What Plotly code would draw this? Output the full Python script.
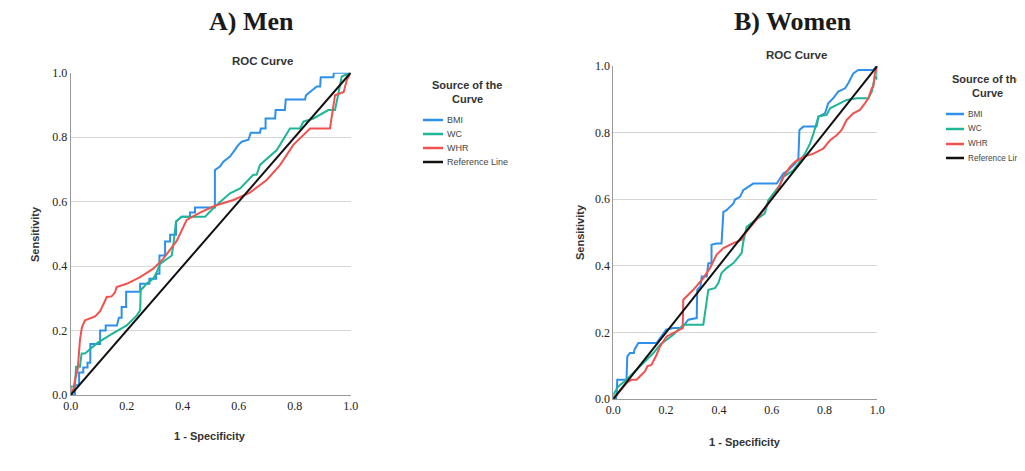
import plotly.graph_objects as go

# ---------------- data ----------------
SERIES = ["BMI", "WC", "WHR", "Reference Line"]
COLORS = ["#2E90EA", "#1FB597", "#F0524F", "#111111"]

# A) Men
men_bmi_x = [0, 0.015, 0.015, 0.03, 0.03, 0.045, 0.045, 0.06, 0.06, 0.07, 0.07, 0.105, 0.105, 0.125, 0.125,
             0.165, 0.172, 0.182, 0.182, 0.198, 0.198, 0.248, 0.248, 0.281, 0.281, 0.305, 0.305, 0.317, 0.317,
             0.337, 0.337, 0.355, 0.355, 0.376, 0.376, 0.396, 0.426, 0.426, 0.444, 0.444, 0.515, 0.515, 0.533,
             0.545, 0.569, 0.581, 0.599, 0.611, 0.635, 0.643, 0.676, 0.679, 0.696, 0.696, 0.73, 0.732, 0.765,
             0.768, 0.837, 0.84, 0.861, 0.879, 0.891, 0.893, 0.938, 0.94, 1.0]
men_bmi_y = [0, 0, 0.03, 0.03, 0.07, 0.07, 0.085, 0.085, 0.10, 0.10, 0.158, 0.158, 0.20, 0.20, 0.216,
             0.216, 0.24, 0.24, 0.273, 0.273, 0.32, 0.32, 0.345, 0.345, 0.361, 0.361, 0.376, 0.376, 0.433,
             0.433, 0.476, 0.476, 0.497, 0.497, 0.538, 0.553, 0.553, 0.566, 0.566, 0.582, 0.582, 0.698, 0.709,
             0.724, 0.74, 0.755, 0.776, 0.786, 0.792, 0.814, 0.814, 0.827, 0.827, 0.858, 0.858, 0.884, 0.884,
             0.917, 0.917, 0.93, 0.946, 0.957, 0.957, 0.986, 0.986, 1.0, 1.0]

men_wc_x = [0, 0, 0.015, 0.019, 0.033, 0.039, 0.051, 0.093, 0.14, 0.2, 0.236, 0.248, 0.25, 0.271, 0.295,
            0.307, 0.319, 0.343, 0.361, 0.367, 0.376, 0.396, 0.48, 0.515, 0.569, 0.605, 0.652, 0.664, 0.676,
            0.736, 0.783, 0.819, 0.831, 0.867, 0.92, 0.944, 0.968, 1.0]
men_wc_y = [0, 0.026, 0.026, 0.088, 0.088, 0.129, 0.129, 0.16, 0.186, 0.216, 0.247, 0.263, 0.325, 0.345, 0.361,
            0.381, 0.407, 0.423, 0.433, 0.469, 0.538, 0.553, 0.553, 0.585, 0.626, 0.641, 0.683, 0.683, 0.714,
            0.76, 0.827, 0.827, 0.848, 0.858, 0.884, 0.884, 0.988, 1.0]

men_whr_x = [0, 0.01, 0.015, 0.025, 0.033, 0.04, 0.051, 0.087, 0.105, 0.129, 0.146, 0.158, 0.164, 0.2, 0.248,
             0.295, 0.331, 0.379, 0.414, 0.462, 0.515, 0.581, 0.64, 0.7, 0.748, 0.795, 0.855, 0.926, 0.944,
             0.975, 0.986, 1.0]
men_whr_y = [0, 0.02, 0.046, 0.08, 0.17, 0.21, 0.232, 0.244, 0.26, 0.304, 0.306, 0.318, 0.335, 0.345, 0.366,
             0.392, 0.423, 0.479, 0.543, 0.566, 0.587, 0.605, 0.628, 0.667, 0.714, 0.776, 0.827, 0.827, 0.93,
             0.94, 0.977, 1.0]

# B) Women
women_bmi_x = [0, 0.01, 0.013, 0.015, 0.05, 0.053, 0.063, 0.078, 0.08, 0.095, 0.164, 0.189, 0.2, 0.227, 0.26,
               0.284, 0.316, 0.318, 0.33, 0.335, 0.354, 0.36, 0.372, 0.372, 0.391, 0.41, 0.417, 0.429, 0.442,
               0.455, 0.461, 0.48, 0.492, 0.511, 0.53, 0.619, 0.631, 0.644, 0.66, 0.688, 0.701, 0.705, 0.72,
               0.77, 0.777, 0.802, 0.814, 0.833, 0.852, 0.878, 0.89, 0.909, 0.928, 0.985, 0.997, 1.0]
women_bmi_y = [0, 0, 0.018, 0.058, 0.058, 0.128, 0.138, 0.138, 0.148, 0.168, 0.168, 0.198, 0.208, 0.213, 0.213,
               0.238, 0.243, 0.328, 0.338, 0.368, 0.368, 0.408, 0.408, 0.463, 0.467, 0.467, 0.562, 0.567, 0.577,
               0.587, 0.599, 0.607, 0.627, 0.637, 0.647, 0.647, 0.662, 0.677, 0.685, 0.707, 0.722, 0.808, 0.818,
               0.818, 0.848, 0.858, 0.888, 0.903, 0.923, 0.933, 0.948, 0.978, 0.988, 0.988, 1.0, 1.0]

women_wc_x = [0, 0, 0.019, 0.05, 0.088, 0.114, 0.152, 0.177, 0.202, 0.227, 0.253, 0.265, 0.341, 0.347, 0.36,
              0.385, 0.398, 0.41, 0.429, 0.455, 0.486, 0.492, 0.505, 0.53, 0.556, 0.574, 0.587, 0.606, 0.631,
              0.644, 0.682, 0.701, 0.726, 0.745, 0.758, 0.777, 0.808, 0.821, 0.846, 0.884, 0.922, 0.966, 0.979,
              0.991, 1.0, 1.0]
women_wc_y = [0, 0.013, 0.038, 0.058, 0.088, 0.108, 0.138, 0.163, 0.178, 0.193, 0.213, 0.223, 0.223, 0.258, 0.328,
              0.333, 0.348, 0.378, 0.393, 0.408, 0.438, 0.47, 0.517, 0.532, 0.547, 0.557, 0.597, 0.617, 0.642,
              0.667, 0.687, 0.707, 0.737, 0.767, 0.797, 0.848, 0.853, 0.873, 0.883, 0.898, 0.903, 0.903, 0.923,
              0.968, 0.96, 1.0]

women_whr_x = [0, 0.025, 0.05, 0.069, 0.088, 0.107, 0.12, 0.129, 0.145, 0.164, 0.177, 0.202, 0.227, 0.246, 0.263,
               0.265, 0.303, 0.341, 0.366, 0.391, 0.417, 0.455, 0.486, 0.499, 0.524, 0.556, 0.587, 0.619, 0.644,
               0.669, 0.688, 0.72, 0.758, 0.795, 0.821, 0.846, 0.865, 0.884, 0.909, 0.934, 0.953, 0.966, 0.979,
               0.985, 0.991, 1.0]
women_whr_y = [0, 0.023, 0.048, 0.058, 0.058, 0.073, 0.083, 0.098, 0.103, 0.133, 0.158, 0.188, 0.198, 0.208, 0.213,
               0.298, 0.328, 0.363, 0.393, 0.433, 0.453, 0.468, 0.478, 0.497, 0.522, 0.552, 0.587, 0.622, 0.667,
               0.697, 0.712, 0.727, 0.737, 0.752, 0.777, 0.792, 0.808, 0.838, 0.858, 0.868, 0.888, 0.903, 0.933,
               0.938, 0.978, 1.0]

ref_x = [0, 1]
ref_y = [0, 1]

TICKS = [0.0, 0.2, 0.4, 0.6, 0.8, 1.0]
PANEL_TITLES = ["A) Men", "B) Women"]

# ---------------- figure ----------------
PAGE_W, PAGE_H = 1025, 471
OFF = 8                      # default body margin of the html page
W, H = PAGE_W - OFF, PAGE_H - OFF


def fx(px):                  # page pixel -> paper fraction
    return (px - OFF) / W


def fy(py):
    return (PAGE_H - py) / H


fig = go.Figure()

panels = [
    dict(series=[(men_bmi_x, men_bmi_y), (men_wc_x, men_wc_y), (men_whr_x, men_whr_y), (ref_x, ref_y)],
         xd=[fx(70.7), fx(350.7)], yd=[fy(395.0), fy(72.7)], xa="x", ya="y"),
    dict(series=[(women_bmi_x, women_bmi_y), (women_wc_x, women_wc_y), (women_whr_x, women_whr_y), (ref_x, ref_y)],
         xd=[fx(613.3), fx(877.3)], yd=[fy(399.0), fy(66.0)], xa="x2", ya="y2"),
]

for p in panels:
    for (sx, sy), name, col in zip(p["series"], SERIES, COLORS):
        fig.add_trace(go.Scatter(x=sx, y=sy, mode="lines", name=name,
                                 line=dict(color=col, width=2), xaxis=p["xa"], yaxis=p["ya"],
                                 showlegend=False, hoverinfo="skip"))

tickfont = dict(family="Liberation Serif", size=12, color="#222222")
for i, p in enumerate(panels):
    sfx = "" if i == 0 else "2"
    fig.update_layout(**{
        "xaxis" + sfx: dict(domain=p["xd"], range=[0, 1], anchor="y" + sfx, tickvals=TICKS,
                            ticktext=[f"{t:.1f}" for t in TICKS], tickfont=tickfont, showgrid=False,
                            zeroline=False, showline=True, linecolor="#9a9a9a", linewidth=1,
                            ticks="", fixedrange=True, automargin=False),
        "yaxis" + sfx: dict(domain=p["yd"], range=[0, 1], anchor="x" + sfx, tickvals=TICKS,
                            ticktext=[f"{t:.1f}" for t in TICKS], tickfont=tickfont, showgrid=True,
                            gridcolor="#d6d6d6", gridwidth=1, zeroline=False, showline=True,
                            linecolor="#9a9a9a", linewidth=1, ticks="", fixedrange=True, automargin=False),
    })

annotations = []
shapes = []


def ann(text, x, y, size, bold=False, family="Liberation Sans", color="#222222", angle=0, xanchor="center"):
    annotations.append(dict(text=f"<b>{text}</b>" if bold else text, x=fx(x), y=fy(y),
                            xref="paper", yref="paper", showarrow=False, textangle=angle,
                            xanchor=xanchor, yanchor="middle",
                            font=dict(family=family, size=size, color=color)))


# panel headings
ann(PANEL_TITLES[0], 251, 22, 26, bold=True, family="Liberation Serif", color="#1a1a1a")
ann(PANEL_TITLES[1], 793, 22, 26, bold=True, family="Liberation Serif", color="#1a1a1a")
# chart titles
ann("ROC Curve", 263, 61, 11.5, bold=True, color="#333333")
ann("ROC Curve", 796, 55, 11.5, bold=True, color="#333333")
# axis titles
ann("Sensitivity", 35, 234, 11, bold=True, angle=-90, color="#333333")
ann("1 - Specificity", 210, 436, 11, bold=True, color="#333333")
ann("Sensitivity", 580, 232, 11, bold=True, angle=-90, color="#333333")
ann("1 - Specificity", 745, 442, 11, bold=True, color="#333333")

# legends
legends = [
    dict(cx=467, ty=[85, 99], lx0=423, lx1=443, tx=445, iy=[120, 134, 148, 162], ts=11, fs=9),
    dict(cx=987, ty=[79, 93], lx0=946, lx1=964, tx=966, iy=[114, 129, 144, 158], ts=11, fs=8.2),
]
for lg in legends:
    ann("Source of the", lg["cx"], lg["ty"][0], lg["ts"], bold=True, color="#333333")
    ann("Curve", lg["cx"], lg["ty"][1], lg["ts"], bold=True, color="#333333")
    for name, col, yy in zip(SERIES, COLORS, lg["iy"]):
        shapes.append(dict(type="line", xref="paper", yref="paper",
                           x0=fx(lg["lx0"]), x1=fx(lg["lx1"]), y0=fy(yy), y1=fy(yy),
                           line=dict(color=col, width=2.5)))
        ann(name, lg["tx"], yy, lg["fs"], color="#444444", xanchor="left")

fig.update_layout(width=W, height=H, margin=dict(l=0, r=0, t=0, b=0, autoexpand=False),
                  paper_bgcolor="white", plot_bgcolor="white",
                  annotations=annotations, shapes=shapes, showlegend=False)

fig.write_html("out.html")
